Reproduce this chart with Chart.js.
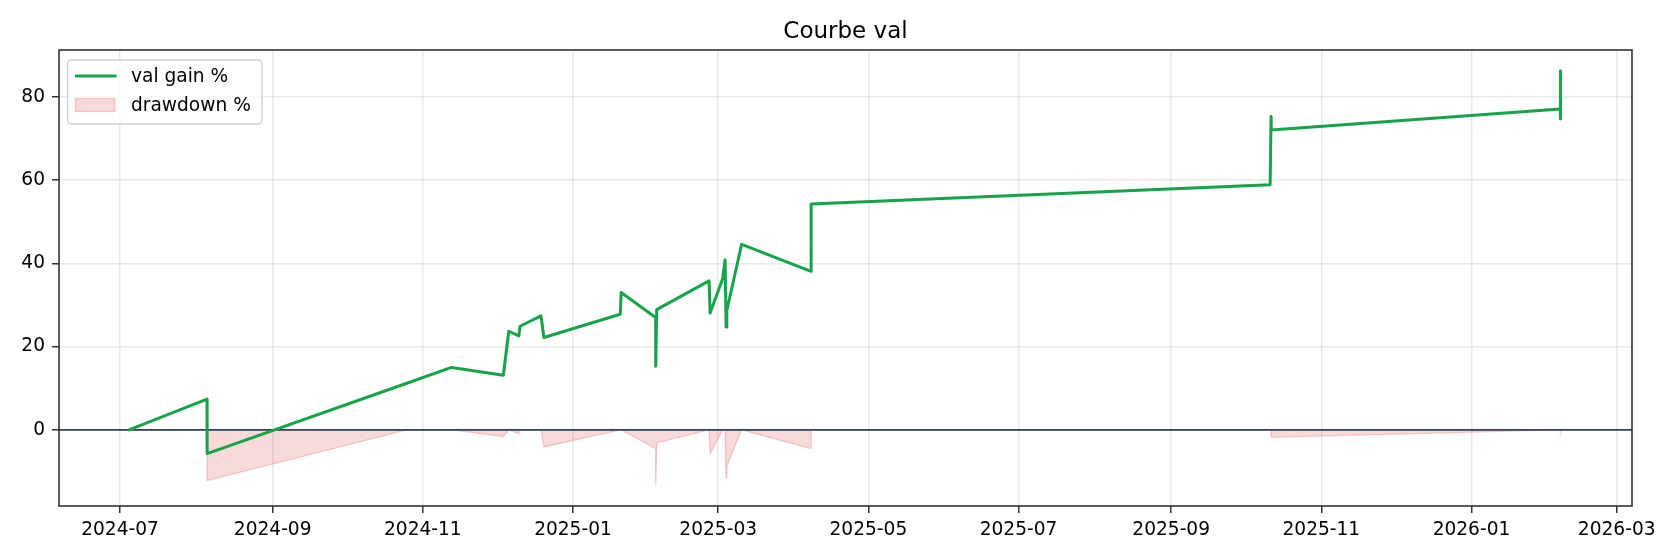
<!DOCTYPE html>
<html>
<head>
<meta charset="utf-8">
<script src="https://cdn.jsdelivr.net/npm/chart.js@4/dist/chart.umd.min.js"></script>
<style>
  html, body { margin: 0; padding: 0; background: #ffffff; }
  #wrap { width: 1680px; height: 560px; }
</style>
</head>
<body>
<div id="wrap"><canvas id="c" width="1680" height="560"></canvas></div>
<script>
// ---- data ----
const chartTitle = 'Courbe val';
const gainLabel = 'val gain %';
const drawdownLabel = 'drawdown %';

const dates = [
  '2024-07-04T16:00Z', '2024-08-05T08:00Z', '2024-08-05T09:00Z', '2024-10-25T12:00Z',
  '2024-11-12T17:00Z', '2024-12-03T17:00Z', '2024-12-05T22:00Z', '2024-12-10T00:00Z',
  '2024-12-10T12:00Z', '2024-12-19T00:00Z', '2024-12-20T05:00Z', '2025-01-20T05:00Z',
  '2025-01-20T14:00Z', '2025-02-03T14:00Z', '2025-02-03T15:00Z', '2025-02-04T00:00Z',
  '2025-02-25T07:00Z', '2025-02-25T17:00Z', '2025-03-02T19:00Z', '2025-03-03T19:00Z',
  '2025-03-04T05:00Z', '2025-03-04T12:00Z', '2025-03-10T12:00Z', '2025-04-07T17:00Z',
  '2025-04-07T18:00Z', '2025-10-11T05:00Z', '2025-10-11T14:00Z', '2025-10-11T15:00Z',
  '2026-02-06T02:00Z', '2026-02-06T03:00Z', '2026-02-06T04:00Z'
];
const gainPct = [
  0.0, 7.4, -5.7, 11.2,
  15.0, 13.1, 23.7, 22.6,
  24.9, 27.4, 22.2, 27.8,
  33.0, 27.0, 15.3, 28.9,
  35.8, 28.1, 36.3, 40.9,
  24.7, 28.7, 44.6, 38.1,
  54.3, 58.9, 75.3, 72.1,
  77.1, 74.7, 86.3
];
const drawdownPct = [
  0.0, 0.0, -12.2, 0.0,
  0.0, -1.6, 0.0, -0.9,
  0.0, 0.0, -4.1, 0.0,
  0.0, -4.5, -13.3, -3.1,
  0.0, -5.7, 0.0, 0.0,
  -11.5, -8.7, 0.0, -4.5,
  0.0, 0.0, 0.0, -1.8,
  0.0, -1.4, 0.0
];
const xTickLabels = ['2024-07', '2024-09', '2024-11', '2025-01', '2025-03', '2025-05',
                     '2025-07', '2025-09', '2025-11', '2026-01', '2026-03'];
const yTickValues = [0, 20, 40, 60, 80];
const xRange = ['2024-06-06T05:00Z', '2026-03-07T05:00Z'];
const yRange = [-18.3, 91.3];

// ---- styling ----
const FONT = 'DejaVu Sans';
const GREEN = '#16a34a';
const DD_FILL = 'rgba(220,38,38,0.17)';
const DD_EDGE = 'rgba(220,38,38,0.22)';
const SPINE = '#333333';
const GRID = 'rgba(176,176,176,0.28)';

const toMs = s => Date.parse(s);
const xTickValues = xTickLabels.map(l => Date.parse(l + '-01T00:00:00Z'));
const tickLabelByValue = {};
xTickValues.forEach((v, i) => { tickLabelByValue[v] = xTickLabels[i]; });

const gainPoints = dates.map((d, i) => ({ x: toMs(d), y: gainPct[i] }));
const ddPoints = dates.map((d, i) => ({ x: toMs(d), y: drawdownPct[i] }));

const decorPlugin = {
  id: 'decor',
  beforeDatasetDraw(chart, args) {
    // zero line drawn above the drawdown fill and below the gain line
    if (args.index === 0) {
      const { ctx, chartArea, scales } = chart;
      const y0 = scales.y.getPixelForValue(0);
      ctx.save();
      ctx.beginPath();
      ctx.rect(chartArea.left, chartArea.top, chartArea.right - chartArea.left, chartArea.bottom - chartArea.top);
      ctx.clip();
      ctx.strokeStyle = '#334155';
      ctx.lineWidth = 1.8;
      ctx.beginPath();
      ctx.moveTo(chartArea.left, y0);
      ctx.lineTo(chartArea.right, y0);
      ctx.stroke();
      ctx.restore();
    }
  },
  afterDraw(chart) {
    const { ctx, chartArea } = chart;
    ctx.save();
    // spines
    ctx.strokeStyle = SPINE;
    ctx.lineWidth = 1.6;
    ctx.strokeRect(chartArea.left, chartArea.top, chartArea.right - chartArea.left, chartArea.bottom - chartArea.top);
    // title
    ctx.fillStyle = '#000';
    ctx.font = '23px "' + FONT + '"';
    ctx.textAlign = 'center';
    ctx.textBaseline = 'middle';
    ctx.fillText(chartTitle, (chartArea.left + chartArea.right) / 2, 32);
    // legend
    const bx = 67.5, by = 60, bw = 194.5, bh = 64, r = 4;
    ctx.beginPath();
    ctx.moveTo(bx + r, by);
    ctx.lineTo(bx + bw - r, by);
    ctx.arcTo(bx + bw, by, bx + bw, by + r, r);
    ctx.lineTo(bx + bw, by + bh - r);
    ctx.arcTo(bx + bw, by + bh, bx + bw - r, by + bh, r);
    ctx.lineTo(bx + r, by + bh);
    ctx.arcTo(bx, by + bh, bx, by + bh - r, r);
    ctx.lineTo(bx, by + r);
    ctx.arcTo(bx, by, bx + r, by, r);
    ctx.closePath();
    ctx.fillStyle = 'rgba(255,255,255,0.8)';
    ctx.fill();
    ctx.strokeStyle = 'rgba(204,204,204,0.9)';
    ctx.lineWidth = 1.4;
    ctx.stroke();
    // gain handle
    ctx.strokeStyle = GREEN;
    ctx.lineWidth = 3;
    ctx.beginPath();
    ctx.moveTo(75, 76);
    ctx.lineTo(116.5, 76);
    ctx.stroke();
    // drawdown handle
    ctx.fillStyle = DD_FILL;
    ctx.fillRect(75.5, 98.5, 39.5, 13);
    ctx.strokeStyle = DD_EDGE;
    ctx.lineWidth = 1.3;
    ctx.strokeRect(75.5, 98.5, 39.5, 13);
    // texts
    ctx.fillStyle = '#000';
    ctx.font = '18.6px "' + FONT + '"';
    ctx.textAlign = 'left';
    ctx.textBaseline = 'middle';
    ctx.fillText(chart.data.datasets[0].label, 131, 77);
    ctx.fillText(chart.data.datasets[1].label, 131, 106);
    ctx.restore();
  }
};

new Chart(document.getElementById('c'), {
  type: 'line',
  data: {
    datasets: [
      {
        label: gainLabel,
        data: gainPoints,
        borderColor: GREEN,
        borderWidth: 3,
        pointRadius: 0,
        tension: 0,
        fill: false,
        borderJoinStyle: 'round',
        borderCapStyle: 'round'
      },
      {
        label: drawdownLabel,
        data: ddPoints,
        borderColor: DD_EDGE,
        backgroundColor: DD_FILL,
        borderWidth: 1.3,
        pointRadius: 0,
        tension: 0,
        fill: 'origin'
      }
    ]
  },
  options: {
    responsive: false,
    animation: false,
    devicePixelRatio: 1,
    layout: { padding: { top: 50, right: 48, left: 0, bottom: 0 } },
    plugins: {
      legend: { display: false },
      title: { display: false },
      tooltip: { enabled: false }
    },
    scales: {
      x: {
        type: 'linear',
        min: toMs(xRange[0]),
        max: toMs(xRange[1]),
        afterBuildTicks(scale) { scale.ticks = xTickValues.map(v => ({ value: v })); },
        afterFit(scale) { scale.height = 54; },
        ticks: {
          autoSkip: false,
          maxRotation: 0,
          minRotation: 0,
          padding: 6,
          color: '#000',
          font: { family: FONT, size: 18.6 },
          callback: (v) => tickLabelByValue[v] || ''
        },
        grid: {
          color: GRID,
          lineWidth: 1.5,
          tickColor: SPINE,
          tickLength: 7,
          tickWidth: 1.5
        },
        border: { display: false }
      },
      y: {
        type: 'linear',
        min: yRange[0],
        max: yRange[1],
        afterBuildTicks(scale) { scale.ticks = yTickValues.map(v => ({ value: v })); },
        afterFit(scale) { scale.width = 59; },
        ticks: {
          padding: 7,
          color: '#000',
          font: { family: FONT, size: 18.6 },
          callback: (v) => String(v)
        },
        grid: {
          color: GRID,
          lineWidth: 1.5,
          tickColor: SPINE,
          tickLength: 7,
          tickWidth: 1.5
        },
        border: { display: false }
      }
    }
  },
  plugins: [decorPlugin]
});
</script>
</body>
</html>
